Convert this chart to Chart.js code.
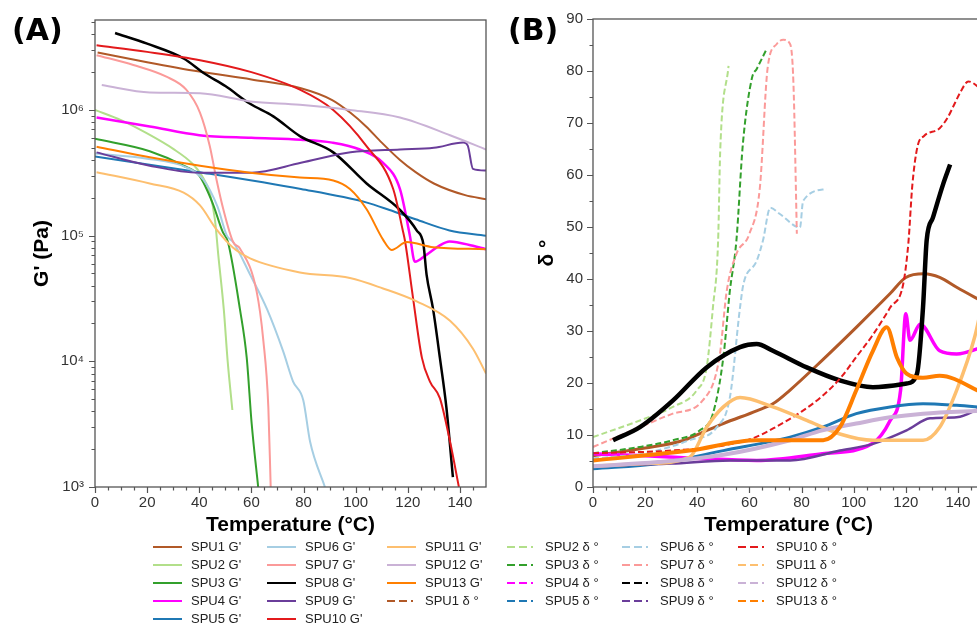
<!DOCTYPE html>
<html>
<head>
<meta charset="utf-8">
<script src="https://cdn.jsdelivr.net/npm/chart.js@4.4.1/dist/chart.umd.min.js"></script>
<style>
html,body{margin:0;padding:0;background:#fff;overflow:hidden}
#page{position:relative;width:977px;height:628px;overflow:hidden;background:#fff;font-family:'Liberation Sans',Arial,sans-serif}
#cA{position:absolute;left:0;top:0}
#cB{position:absolute;left:490px;top:0}
.tag{position:absolute;font:bold 30px 'DejaVu Sans',sans-serif;line-height:30px;color:#000}
.item{position:absolute;height:16px;font-size:13px;line-height:16px;color:#222;white-space:nowrap}
.item svg{position:absolute;left:0;top:3px}
.item span{position:absolute;left:38px;top:0}
</style>
</head>
<body>
<div id="page">
  <canvas id="cA" width="500" height="545"></canvas>
  <canvas id="cB" width="510" height="545"></canvas>
  <div class="tag" style="left:12px;top:15px">(A)</div>
  <div class="tag" style="left:508px;top:15px">(B)</div>
  <div id="legend"></div>
</div>
<script>
// sample names + colours
const names = ['SPU1','SPU2','SPU3','SPU4','SPU5','SPU6','SPU7','SPU8','SPU9','SPU10','SPU11','SPU12','SPU13'];
const colors = ['#b15928','#b2df8a','#33a02c','#ff00ff','#1f78b4','#a6cee3','#fb9a99','#000000','#6a3d9a','#e31a1c','#fdbf6f','#cab2d6','#ff7f00'];

// tick labels
const xMajorTicks = [0,20,40,60,80,100,120,140];
const gMajorTicks = [1e3,1e4,1e5,1e6];
const dMajorTicks = [0,10,20,30,40,50,60,70,80,90];

// G' (Pa) vs temperature (°C)
const G1 = [[1,2.87e6],[20,2.4e6],[40,2.02e6],[60,1.75e6],[79,1.49e6],[91,1.2e6],[98,9.5e5],[104,7.4e5],[110,5.5e5],[117,4e5],[123,3.2e5],[130,2.6e5],[142,2.1e5],[150,1.95e5]];
const G2 = [[0,1e6],[10,8.3e5],[20,6.5e5],[30,4.9e5],[37,3.8e5],[41,3e5],[44,2.2e5],[46,1.35e5],[47.3,7e4],[49.4,2.6e4],[50.9,1e4],[52.7,4.1e3]];
const G3 = [[0,5.9e5],[21,4.7e5],[34,3.6e5],[40,3e5],[45,1.84e5],[49,1.07e5],[51,8.9e4],[55.6,2.6e4],[58.2,1.07e4],[60.1,3.2e3],[62.6,1e3]];
const G4 = [[0.6,8.7e5],[21,7.4e5],[40,6.3e5],[60,6e5],[79,5.8e5],[91,5.5e5],[101.6,4.85e5],[110.5,3.8e5],[117,2.35e5],[120.8,1e5],[122.7,6.2e4],[127,7e4],[132,8.3e4],[136,9e4],[145,8.3e4],[150,7.8e4]];
const G5 = [[0,4.26e5],[40,3.2e5],[79,2.35e5],[104,1.84e5],[113,1.6e5],[123,1.35e5],[136,1.1e5],[150,1e5]];
const G6 = [[0,4.5e5],[20,4.1e5],[35,3.5e5],[41.5,2.8e5],[47,1.7e5],[50.6,1e5],[53,8.9e4],[59.5,4.9e4],[66,2.6e4],[72.2,1.2e4],[76,6.9e3],[79.9,4.9e3],[82.5,2.3e3],[88.2,1e3]];
const G7 = [[0.6,2.73e6],[14.7,2.28e6],[27.4,1.84e6],[35,1.45e6],[40.3,9.5e5],[44,5.2e5],[46.6,2.8e5],[49.3,1.6e5],[53,8.9e4],[55.6,7.9e4],[62,3.6e4],[64.6,1.45e4],[66.5,4.3e3],[67.4,1e3]];
const G8 = [[7.7,4.1e6],[20,3.37e6],[34,2.57e6],[42,1.95e6],[50,1.55e6],[59.5,1.12e6],[68.4,8.9e5],[78.6,6.2e5],[91.4,4.6e5],[104.2,2.6e5],[117,1.6e5],[123.4,1.1e5],[126,8.5e4],[127.2,4.9e4],[129.7,2.6e4],[132.3,1.07e4],[134.8,4.3e3],[137.3,1.2e3]];
const G9 = [[0.6,4.6e5],[21,3.6e5],[40,3.17e5],[60,3.17e5],[79,3.8e5],[98,4.6e5],[117,4.85e5],[130,5e5],[141.3,5.5e5],[143,5.2e5],[145,3.4e5],[150,3.3e5]];
const G10 = [[0.6,3.27e6],[20,2.9e6],[40.3,2.49e6],[60,2e6],[78.6,1.45e6],[91.4,1e6],[104,5.2e5],[114.4,2.35e5],[118,1.12e5],[119,8.9e4],[122,3.2e4],[125.4,1.07e4],[128.5,6.9e3],[132.3,5.1e3],[136.2,2.3e3],[139.6,1e3]];
const G11 = [[0.6,3.2e5],[21,2.6e5],[34,2.2e5],[40.3,1.74e5],[46.6,1.12e5],[53,8e4],[59.5,6.6e4],[78.6,5.1e4],[97.8,4.6e4],[110.5,3.8e4],[123.4,3e4],[136.2,2.1e4],[145,1.26e4],[150,8e3]];
const G12 = [[2.6,1.58e6],[21,1.38e6],[40.3,1.36e6],[59.5,1.17e6],[78.6,1.1e6],[97.8,1e6],[117,8.7e5],[136.2,6.3e5],[150,4.85e5]];
const G13 = [[0.6,5.1e5],[21,4.2e5],[40.3,3.6e5],[59.5,3.17e5],[78.6,2.9e5],[91.4,2.75e5],[97.8,2.35e5],[104.2,1.62e5],[110.5,9.3e4],[113.8,7.7e4],[119.6,8.9e4],[129.7,8.1e4],[150,7.8e4]];

// δ (°) vs temperature (°C)
const D1 = [[0,6],[20,7.5],[35,9],[42,10.5],[50,12.2],[63,14.7],[69,16],[75.5,18.6],[88,24.4],[101,30.7],[114,37.2],[120,40.3],[127,41],[133,40.3],[139.5,38.4],[150,35.5]];
const D2 = [[0,9.6],[18,12.8],[30.6,15.4],[39.8,18.6],[43.6,23],[46,34.5],[48,47.4],[48.8,64.6],[52,81]];
const D3 = [[0,6.5],[18,7.7],[30.6,9],[41,10.9],[46,14.1],[50,24.9],[52.5,37.7],[55,47.3],[57.5,66],[61,78.7],[62.8,80.4],[66.6,84.2]];
const D4 = [[0,6.4],[20,6],[40,5.5],[62.8,5.1],[88,6.4],[107,8.3],[114,12.8],[118,18.6],[120,33.3],[121.6,28.2],[125.5,31.3],[133,26.2],[139.5,25.6],[150,27]];
const D5 = [[0,3.5],[25,4.5],[50,7],[75.6,9.6],[88,11.5],[101,14.1],[114,15.4],[126.6,16],[139.5,15.7],[150,15.3]];
const D6 = [[0,5.5],[20,6.5],[37,9],[47.5,11.5],[52.5,17.2],[56.4,34.5],[57.7,39],[62.8,43.5],[65.2,47.4],[68,53.7],[71.7,52.5],[79.4,49.9],[80.6,55],[89.6,57.3]];
const D7 = [[0,7.7],[18,11.5],[30.6,14.1],[42,16.6],[48.5,24.9],[51.3,37.7],[55,44.8],[60,48.7],[64,57.5],[67,80.6],[70.5,85.2],[73,86],[75.6,85.2],[76.9,77.5],[78.2,48.7]];
const D8 = [[7.7,9],[18,11.5],[30.6,16.6],[43.6,23],[56.4,26.9],[62.8,27.5],[69,26.2],[82,23],[94.7,20.5],[107.4,19.2],[120.3,19.9],[124.3,21.8],[126.6,34.5],[128,47.4],[130.4,51.8],[134.3,58.2],[137,62]];
const D9 = [[0,4],[30,4.5],[52.6,5.1],[75.6,5.1],[94.7,7],[107.4,8.3],[120.3,10.9],[129.3,13.2],[139.5,13.4],[150,15.5]];
const D10 = [[0,6.5],[30,7],[50,8],[62,9.5],[70,11.5],[80,14.5],[88,17.5],[95,21],[101,25],[107,29],[114,34.5],[119,39],[121,47],[122.5,58],[124.5,65.5],[127,67.5],[133,69],[136,71],[139,74],[141,76],[144,78],[150,76]];
const D11 = [[0,4],[20,4.5],[37,5.7],[43.6,11.5],[50,15.4],[56.4,17.2],[69,15.4],[82,12.8],[94.7,10.2],[107.4,9],[126.6,9],[133,11.5],[139.5,18.6],[146.5,29],[150,37]];
const D12 = [[0,4],[25,4.8],[50,6.2],[75.6,9],[88,10.9],[101,12.2],[114,13.4],[126.6,14.1],[150,14.7]];
const D13 = [[0,5.1],[37,7],[62.8,9],[88.3,9],[94.7,11.5],[101,18.6],[107.4,26.2],[112.7,30.7],[116.6,24.9],[120.3,21.8],[126.6,21],[133,21.4],[150,18]];

const gSeries = [G1,G2,G3,G4,G5,G6,G7,G8,G9,G10,G11,G12,G13];
const dSeries = [D1,D2,D3,D4,D5,D6,D7,D8,D9,D10,D11,D12,D13];

// line looks (index = sample)
const gWidth = [2,2,2,2.5,2,2,2,2.5,2,2,2,2,2];
const dWidth = [3,2,2,3.5,3,2,2,4.5,2.5,2,3.5,4,4];
const dDashed = [false,true,true,false,false,true,true,false,false,true,false,false,false];

const FONT = "'Liberation Sans', Arial, sans-serif";
const tickFont = {family: FONT, size: 15};
const titleFont = {family: FONT, size: 21, weight: 'bold'};
const supDigits = ['⁰','¹','²','³','⁴','⁵','⁶','⁷','⁸','⁹'];

const toXY = pts => pts.map(p => ({x: p[0], y: p[1]}));

function lineSet(label, pts, color, width, dash, i) {
    return {
        label, data: toXY(pts), borderColor: color, backgroundColor: color,
        borderWidth: width, borderDash: dash ? [6, 3] : [], pointRadius: 0,
        fill: false, cubicInterpolationMode: 'monotone', order: -i
    };
}

// own tick lists: majors from the arrays above, minors in between
function xTicks() {
    const t = [];
    for (let v = 0; v < 150; v += 5) t.push({value: v, major: xMajorTicks.includes(v)});
    return t;
}
function gTicks() {
    const t = [];
    gMajorTicks.forEach(m => { for (let k = 1; k < 10; k++) if (m * k <= 5.2e6) t.push({value: m * k, major: k === 1}); });
    return t;
}
function dTicks() {
    const t = [];
    for (let v = 0; v <= 90; v += 5) t.push({value: v, major: dMajorTicks.includes(v)});
    return t;
}

const frameTicks = {
    id: 'frameTicks',
    afterDatasetsDraw(chart) {
        const {ctx, chartArea: a, scales} = chart;
        ctx.save();
        ctx.strokeStyle = '#555';
        ctx.lineWidth = 1.3;
        ctx.strokeRect(a.left, a.top, a.right - a.left, a.bottom - a.top);
        ctx.lineWidth = 1.2;
        ctx.beginPath();
        scales.x.ticks.forEach(t => {
            const px = Math.round(scales.x.getPixelForValue(t.value)) + 0.5;
            ctx.moveTo(px, a.bottom); ctx.lineTo(px, a.bottom + (t.major ? 6 : 3.5));
        });
        scales.y.ticks.forEach(t => {
            const py = Math.round(scales.y.getPixelForValue(t.value)) + 0.5;
            ctx.moveTo(a.left, py); ctx.lineTo(a.left - (t.major ? 6 : 3.5), py);
        });
        ctx.stroke();
        ctx.restore();
    }
};

function xScale() {
    return {
        type: 'linear', min: 0, max: 150,
        grid: {display: false, drawTicks: false}, border: {display: false},
        afterBuildTicks: s => { s.ticks = xTicks(); },
        ticks: {autoSkip: false, maxRotation: 0, padding: 7, color: '#333', font: tickFont,
            callback: v => xMajorTicks.includes(v) ? String(v) : ''},
        title: {display: true, text: 'Temperature (°C)', color: '#000', font: titleFont, padding: {top: 0, bottom: 7}},
        afterFit: s => { s.height = 58; }
    };
}

function baseOptions(yAxis) {
    return {
        responsive: false, animation: false,
        layout: {padding: {top: 17, right: 0, bottom: 0, left: 0}},
        plugins: {legend: {display: false}, tooltip: {enabled: false}},
        scales: {x: xScale(), y: yAxis}
    };
}

// panel A
const optA = baseOptions({
    type: 'logarithmic', min: 1e3, max: 5.2e6,
    grid: {display: false, drawTicks: false}, border: {display: false},
    afterBuildTicks: s => { s.ticks = gTicks(); },
    ticks: {autoSkip: false, padding: 11, color: '#333', font: tickFont,
        callback: v => gMajorTicks.includes(v) ? '10' + supDigits[Math.round(Math.log10(v))] : ''},
    title: {display: true, text: "G' (Pa)", color: '#000', font: titleFont, padding: {top: 30, bottom: 0}},
    afterFit: s => { s.width = 95; }
});
optA.layout.padding.right = 14;

new Chart(document.getElementById('cA'), {
    type: 'line',
    data: {datasets: gSeries.map((pts, i) => lineSet(names[i] + " G'", pts, colors[i], gWidth[i], false, i))},
    options: optA,
    plugins: [frameTicks]
});

// panel B
const optB = baseOptions({
    type: 'linear', min: 0, max: 90,
    grid: {display: false, drawTicks: false}, border: {display: false},
    afterBuildTicks: s => { s.ticks = dTicks(); },
    ticks: {autoSkip: false, padding: 10, color: '#333', font: tickFont,
        callback: v => dMajorTicks.includes(v) ? String(v) : ''},
    title: {display: true, text: 'δ °', color: '#000', font: titleFont, padding: {top: 45, bottom: 0}},
    afterFit: s => { s.width = 103; }
});
optB.layout.padding.right = 16;

new Chart(document.getElementById('cB'), {
    type: 'line',
    data: {datasets: dSeries.map((pts, i) => lineSet(names[i] + ' δ °', pts, colors[i], dWidth[i], dDashed[i], i))},
    options: optB,
    plugins: [frameTicks]
});

// legend below both panels, filled column by column
const legendItems = names.map((n, i) => ({text: n + " G'", color: colors[i], dashed: false}))
    .concat(names.map((n, i) => ({text: n + ' δ °', color: colors[i], dashed: true})));
const colSizes = [5, 5, 4, 4, 4, 4];
const colX = [153, 267, 387, 507, 622, 738];
const rowY = [547, 565, 583, 601, 619];

const legend = document.getElementById('legend');
let k = 0;
colSizes.forEach((n, c) => {
    for (let r = 0; r < n; r++, k++) {
        const it = legendItems[k];
        const div = document.createElement('div');
        div.className = 'item';
        div.style.left = colX[c] + 'px';
        div.style.top = (rowY[r] - 8) + 'px';
        const len = it.dashed ? 26 : 29;
        div.innerHTML = `<svg width="30" height="10"><line x1="0" y1="5" x2="${len}" y2="5" stroke="${it.color}" stroke-width="2"${it.dashed ? ' stroke-dasharray="8,4"' : ''}/></svg><span>${it.text}</span>`;
        legend.appendChild(div);
    }
});
</script>
</body>
</html>
